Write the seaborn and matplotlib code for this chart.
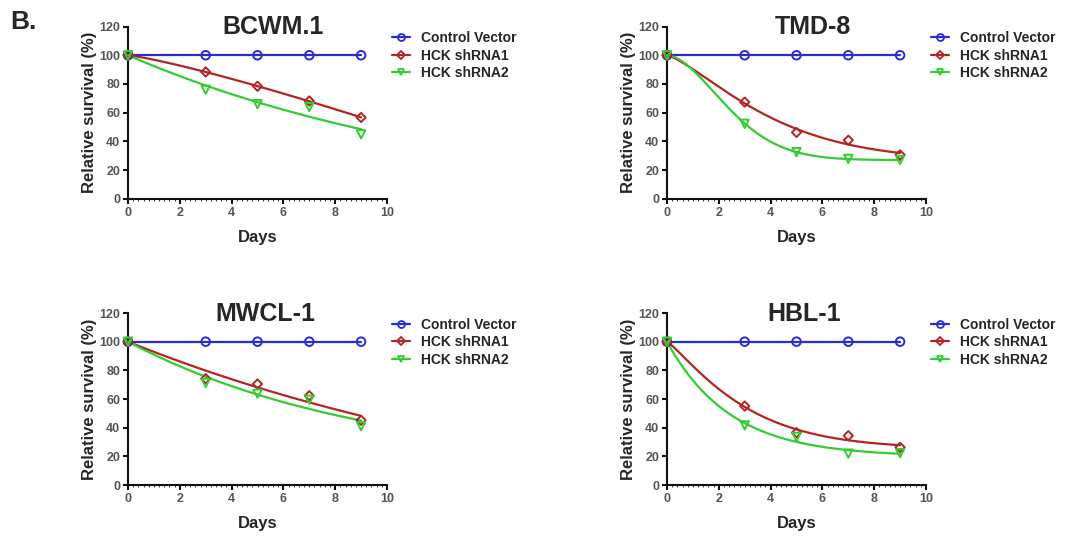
import numpy as np
import pandas as pd
import matplotlib
matplotlib.use("Agg")
import matplotlib.pyplot as plt
from matplotlib.lines import Line2D
from matplotlib.ticker import MultipleLocator
import seaborn as sns

# ---- data: relative survival (%) over days after transduction ----
days = [0, 3, 5, 7, 9]
cell_lines = ["BCWM.1", "TMD-8", "MWCL-1", "HBL-1"]
series_names = ["Control Vector", "HCK shRNA1", "HCK shRNA2"]

bcwm1_control = [100, 100, 100, 100, 100]
bcwm1_shrna1 = [100, 88.4, 78.4, 68.2, 56.7]
bcwm1_shrna2 = [100, 76.0, 66.0, 64.0, 45.0]

tmd8_control = [100, 100, 100, 100, 100]
tmd8_shrna1 = [100, 67.4, 46.3, 40.9, 30.7]
tmd8_shrna2 = [100, 52.3, 32.6, 27.9, 27.2]

mwcl1_control = [100, 100, 100, 100, 100]
mwcl1_shrna1 = [100, 74.2, 70.5, 62.3, 45.1]
mwcl1_shrna2 = [100, 71.2, 63.7, 59.5, 41.0]

hbl1_control = [100, 100, 100, 100, 100]
hbl1_shrna1 = [100, 55.1, 36.5, 34.4, 26.3]
hbl1_shrna2 = [100, 41.6, 33.5, 21.9, 22.2]

panel_values = {
    "BCWM.1": [bcwm1_control, bcwm1_shrna1, bcwm1_shrna2],
    "TMD-8": [tmd8_control, tmd8_shrna1, tmd8_shrna2],
    "MWCL-1": [mwcl1_control, mwcl1_shrna1, mwcl1_shrna2],
    "HBL-1": [hbl1_control, hbl1_shrna1, hbl1_shrna2],
}

# ---- style ----
colors = ["#2a2ad6", "#b42424", "#33cc33"]
markers = ["o", "D", "v"]
marker_sizes = [38, 22, 36]

sns.set_style("ticks")
plt.rcParams["font.family"] = ["Liberation Sans", "DejaVu Sans"]
plt.rcParams["font.weight"] = "bold"


def fit_decay(x, y, top=100.0):
    """Least-squares fit of y = P + (top - P) * exp(-(k * x) ** h), h >= 1."""
    x = np.asarray(x, float)
    y = np.asarray(y, float)
    best = None
    for k in np.geomspace(0.005, 2.0, 300):
        for h in np.linspace(1.0, 2.2, 49):
            s = np.exp(-(k * x) ** h)
            d = 1.0 - s
            den = np.sum(d * d)
            if den <= 0:
                continue
            p = np.sum((y - top * s) * d) / den
            err = np.sum((p + (top - p) * s - y) ** 2)
            if best is None or err < best[0]:
                best = (err, k, h, p)
    _, k, h, p = best
    return lambda t: p + (top - p) * np.exp(-(k * np.asarray(t)) ** h)


W, H = 1067, 536
fig = plt.figure(figsize=(W / 100, H / 100), dpi=100)

# axes rectangles in pixels: left, top (y=120), right (x=10), bottom (y=0)
boxes = {
    "BCWM.1": (128, 26.5, 387, 199),
    "TMD-8": (667, 26.5, 926, 199),
    "MWCL-1": (128, 313, 387, 485),
    "HBL-1": (667, 313, 926, 485),
}
title_x = {"BCWM.1": 0.56, "TMD-8": 0.562, "MWCL-1": 0.532, "HBL-1": 0.53}

xgrid = np.linspace(0, 9, 200)

for name in cell_lines:
    l, t, r, b = boxes[name]
    ax = fig.add_axes([l / W, 1 - b / H, (r - l) / W, (b - t) / H])
    for i, vals in enumerate(panel_values[name]):
        curve = fit_decay(days, vals)
        sns.lineplot(x=xgrid, y=curve(xgrid), ax=ax, color=colors[i],
                     linewidth=1.6, clip_on=False, zorder=2 + i)
        sns.scatterplot(x=days, y=vals, ax=ax, marker=markers[i],
                        s=marker_sizes[i], color=colors[i], facecolor="none",
                        edgecolor=colors[i], linewidth=1.4, clip_on=False,
                        zorder=5 + i)

    ax.set_xlim(0, 10)
    ax.set_ylim(0, 120)
    ax.xaxis.set_major_locator(MultipleLocator(2))
    ax.xaxis.set_minor_locator(MultipleLocator(0.2))
    ax.yaxis.set_major_locator(MultipleLocator(20))
    for side in ("top", "right"):
        ax.spines[side].set_visible(False)
    for side in ("left", "bottom"):
        ax.spines[side].set_linewidth(1.5)
        ax.spines[side].set_color("#111111")
    ax.tick_params(which="major", length=3.5, width=1.5, color="#111111",
                   labelsize=9, labelcolor="#555555", pad=2)
    ax.tick_params(axis="x", which="minor", length=1.6, width=0.7,
                   color="#333333")
    for lab in ax.get_xticklabels() + ax.get_yticklabels():
        lab.set_fontweight("bold")

    ax.set_xlabel("Days", fontsize=12, fontweight="bold", labelpad=8)
    ax.set_ylabel("Relative survival (%)", fontsize=12, fontweight="bold",
                  labelpad=2)
    ax.text(title_x[name], 0.997, name, transform=ax.transAxes,
            ha="center", va="center", fontsize=18, fontweight="bold")

    handles = [Line2D([], [], color=colors[i], marker=markers[i],
                      markerfacecolor="none", markeredgecolor=colors[i],
                      markersize=5 if markers[i] != "D" else 4,
                      markeredgewidth=1.3, linewidth=1.6)
               for i in range(3)]
    ax.legend(handles, series_names, loc="upper left",
              bbox_to_anchor=(0.98, 1.03), frameon=False,
              prop={"size": 10, "weight": "bold"}, handlelength=1.3,
              handletextpad=0.8, labelspacing=0.25, borderaxespad=0.3)

fig.text(10 / W, 1 - 22 / H, "B.", fontsize=19, fontweight="bold",
         ha="left", va="center")

fig.savefig("out.png", dpi=100)
